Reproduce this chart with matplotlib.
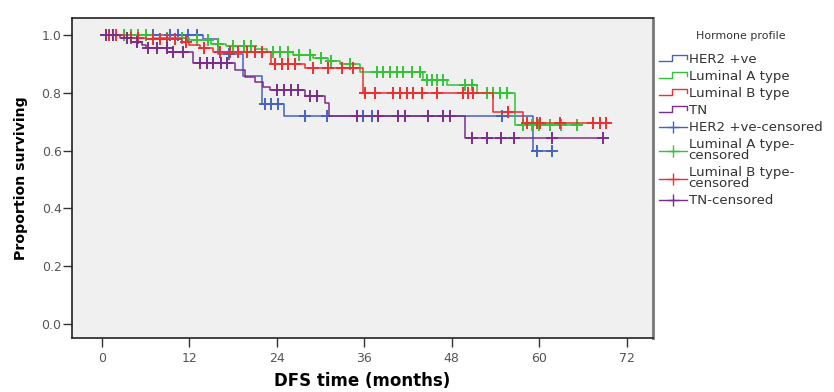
import numpy as np
import matplotlib
matplotlib.use("Agg")
import matplotlib.pyplot as plt
from matplotlib.lines import Line2D
from matplotlib.legend_handler import HandlerBase

plt.rcParams['font.family'] = ['DejaVu Sans']

groups = ["HER2 +ve", "Luminal A type", "Luminal B type", "TN"]
colors = ["#4563c2", "#36c236", "#ec2f2f", "#7a2e8c"]

# event times (months) and survival after each step
her2_t = [13.9, 16.0, 19.3, 22.0, 25.0, 59.2]
her2_s = [0.985, 0.935, 0.86, 0.76, 0.72, 0.60]
her2_c = [1.0, 4.0, 7.0, 9.3, 10.4, 11.8, 13.0, 17.5, 22.4, 23.2, 24.2,
          27.9, 30.9, 35.8, 37.0, 54.9, 59.7, 61.8]

luma_t = [7.0, 12.0, 15.0, 17.0, 21.0, 22.6, 26.2, 29.0, 31.0, 32.7, 35.4,
          44.1, 47.4, 51.5, 56.7]
luma_s = [0.99, 0.983, 0.97, 0.963, 0.953, 0.943, 0.93, 0.92, 0.91, 0.90,
          0.872, 0.844, 0.827, 0.80, 0.69]
luma_c = [3.0, 4.0, 5.0, 6.0, 9.0, 11.0, 13.0, 14.5, 16.0, 18.0, 19.5, 20.5,
          23.5, 24.5, 25.5, 27.0, 28.5, 30.0, 31.5, 34.0, 37.7, 38.6, 39.5,
          40.5, 41.3, 42.6, 43.6, 44.6, 45.3, 46.0, 46.8, 49.8, 50.8, 52.8,
          53.7, 54.6, 55.6, 57.8, 59.0, 60.0, 61.5, 63.0, 65.2]

lumb_t = [3.0, 6.0, 11.0, 12.0, 13.5, 15.2, 23.2, 27.9, 35.8, 53.7, 57.8]
lumb_s = [0.99, 0.985, 0.976, 0.965, 0.955, 0.94, 0.90, 0.886, 0.80, 0.733,
          0.695]
lumb_c = [1.0, 2.0, 4.0, 5.0, 7.0, 8.0, 9.0, 10.0, 11.5, 14.0, 16.2, 17.6,
          18.7, 19.9, 21.0, 22.0, 23.7, 24.7, 25.5, 26.5, 29.0, 31.0, 33.0,
          34.5, 36.1, 37.5, 39.9, 40.9, 41.9, 42.7, 43.9, 46.0, 49.6, 50.2,
          50.9, 55.7, 58.3, 59.7, 60.1, 62.9, 67.4, 68.4, 69.2]

tn_t = [2.5, 4.0, 5.5, 6.0, 9.0, 12.5, 18.3, 19.6, 21.0, 22.1, 23.0, 27.9,
        30.6, 31.2, 49.8]
tn_s = [0.99, 0.976, 0.965, 0.955, 0.94, 0.905, 0.88, 0.855, 0.837, 0.82,
        0.81, 0.79, 0.765, 0.72, 0.644]
tn_c = [0.5, 1.5, 3.4, 4.8, 6.3, 7.5, 8.9, 9.7, 11.1, 13.5, 14.4, 15.2, 16.3,
        17.2, 24.0, 25.0, 26.0, 26.9, 28.5, 29.5, 35.0, 37.9, 40.6, 41.6,
        44.7, 46.8, 47.8, 50.8, 52.8, 54.7, 56.6, 61.8, 68.8]

series = [(her2_t, her2_s, her2_c), (luma_t, luma_s, luma_c),
          (lumb_t, lumb_s, lumb_c), (tn_t, tn_s, tn_c)]


def surv_at(times, surv, t):
    i = np.searchsorted(times, t, side='right')
    return 1.0 if i == 0 else surv[i - 1]


class StepHandler(HandlerBase):
    def create_artists(self, legend, orig_handle, xdescent, ydescent,
                       width, height, fontsize, trans):
        x0, w = -xdescent, width
        y0, h = -ydescent, height
        xs = [x0, x0 + 0.45 * w, x0 + 0.45 * w, x0 + w, x0 + w]
        ys = [y0 + 0.2 * h, y0 + 0.2 * h, y0 + 0.9 * h, y0 + 0.9 * h, y0 + 0.5 * h]
        ln = Line2D(xs, ys, color=orig_handle.get_color(), lw=1.0)
        ln.set_transform(trans)
        return [ln]


fig = plt.figure(figsize=(8.34, 3.92), dpi=100)
ax = fig.add_axes([0.0863, 0.138, 0.6966, 0.816])
ax.set_facecolor("#f0f0f0")

step_handles = []
cens_handles = []
for (t, s, c), col, name in zip(series, colors, groups):
    end = max(c[-1], t[-1])
    xs = [0.0] + list(t) + [end]
    ys = [1.0] + list(s) + [s[-1]]
    ax.step(xs, ys, where='post', color=col, lw=1.1)
    cy = [surv_at(t, s, ci) for ci in c]
    ax.plot(c, cy, linestyle='none', marker='+', ms=8, mew=1.4, color=col)
    step_handles.append(Line2D([], [], color=col))
    cens_handles.append(Line2D([], [], color=col, marker='+', ms=8, mew=1.0, lw=1.0))

ax.set_xlim(-4.1, 75.6)
ax.set_ylim(-0.048, 1.059)
ax.set_xticks(np.arange(0, 73, 12))
ax.set_yticks(np.arange(0, 1.01, 0.2))
ax.set_yticklabels(["0.0", "0.2", "0.4", "0.6", "0.8", "1.0"])
ax.tick_params(labelsize=9, labelcolor="#555555", colors="#333333", length=6.5, width=1)
ax.tick_params(axis='y', pad=1)
for sp in ax.spines.values():
    sp.set_linewidth(1.2)
    sp.set_color("#222222")
ax.spines['right'].set_color("#777777")
ax.spines['right'].set_linewidth(2)

ax.set_xlabel("DFS time (months)", fontsize=12, fontweight='bold', labelpad=5)
ax.set_ylabel("Proportion surviving", fontsize=10.2, fontweight='bold', labelpad=10)

labels = groups + ["HER2 +ve-censored", "Luminal A type-\ncensored",
                   "Luminal B type-\ncensored", "TN-censored"]
handles = step_handles + cens_handles
hmap = {h: StepHandler() for h in step_handles}
leg = fig.legend(handles, labels, handler_map=hmap, loc='upper left',
                 bbox_to_anchor=(0.784, 0.935), frameon=False, fontsize=9.6,
                 title="Hormone profile", title_fontsize=7.9, handlelength=2.1,
                 handletextpad=0.1, labelspacing=0.3, borderaxespad=0)
leg._legend_box.sep = 9
for txt in leg.get_texts():
    txt.set_color("#333333")
    txt.set_linespacing(0.8)
leg.get_title().set_color("#333333")

fig.savefig("out.png", dpi=100)
